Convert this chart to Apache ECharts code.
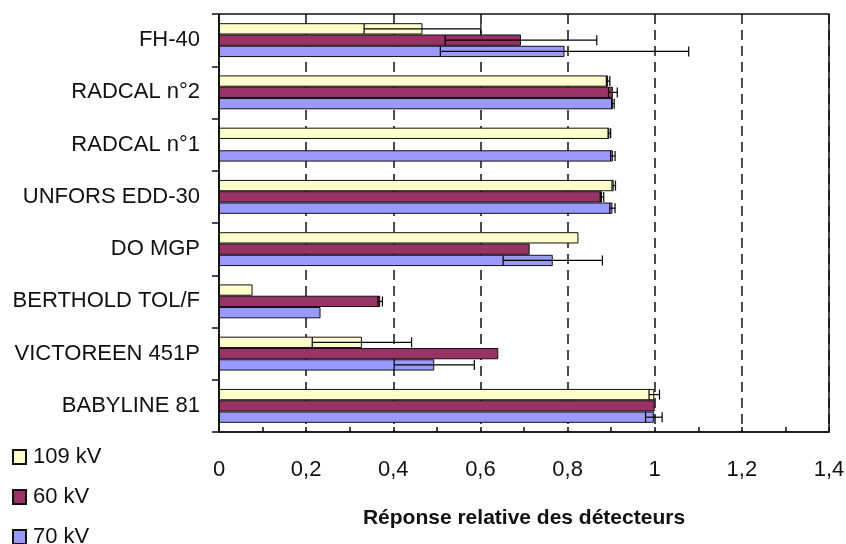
<!DOCTYPE html>
<html>
<head>
<meta charset="utf-8">
<script src="https://cdn.jsdelivr.net/npm/echarts@6/dist/echarts.min.js"></script>
<style>
  html, body { margin: 0; padding: 0; background: #fff; }
  #main { width: 846px; height: 544px; }
</style>
</head>
<body>
<div id="main"></div>
<script>
// detectors, top to bottom
var categories = ['FH-40', 'RADCAL n°2', 'RADCAL n°1', 'UNFORS EDD-30', 'DO MGP', 'BERTHOLD TOL/F', 'VICTOREEN 451P', 'BABYLINE 81'];
var seriesNames = ['109 kV', '60 kV', '70 kV'];

// relative response and error (half width) per tube voltage
var v109 = [0.467, 0.893, 0.896, 0.906, 0.825, 0.077, 0.328, 0.999];
var e109 = [0.134, 0.004, 0.003, 0.004, 0, 0, 0.114, 0.012];
var v60 = [0.693, 0.904, null, 0.879, 0.713, 0.370, 0.641, 1.0];
var e60 = [0.174, 0.010, 0, 0.004, 0, 0.005, 0, 0];
var v70 = [0.793, 0.904, 0.904, 0.903, 0.766, 0.233, 0.494, 0.998];
var e70 = [0.285, 0.003, 0.005, 0.006, 0.114, 0, 0.092, 0.019];

var xTicks = [0, 0.2, 0.4, 0.6, 0.8, 1, 1.2, 1.4];

var colors = ['#FFFFCC', '#993366', '#9999FF'];
var FONT = '"Liberation Sans", Arial, sans-serif';
var barW = 11.3;
var dir = 1;

function errData(vals, errs) {
    var out = [];
    for (var i = 0; i < vals.length; i++) {
        if (vals[i] == null || !errs[i]) continue;
        out.push([vals[i], i, errs[i]]);
    }
    return out;
}

function errRenderer(slot) {
    return function (params, api) {
        var v = api.value(0), c = api.value(1), e = api.value(2);
        var p = api.coord([v, c]);
        var y = p[1] + dir * (slot - 1) * barW;
        var x1 = api.coord([v - e, c])[0];
        var x2 = api.coord([v + e, c])[0];
        var h = 5;
        var st = { stroke: '#000', lineWidth: 1.2 };
        return {
            type: 'group',
            children: [
                { type: 'line', shape: { x1: x1, y1: y, x2: x2, y2: y }, style: st },
                { type: 'line', shape: { x1: x1, y1: y - h, x2: x1, y2: y + h }, style: st },
                { type: 'line', shape: { x1: x2, y1: y - h, x2: x2, y2: y + h }, style: st }
            ]
        };
    };
}

var values = [v109, v60, v70];
var errs = [e109, e60, e70];
var series = [];
for (var s = 0; s < 3; s++) {
    series.push({
        name: seriesNames[s],
        type: 'bar',
        data: values[s].map(function (d) { return d == null ? '-' : d; }),
        barWidth: barW,
        barGap: '0%',
        itemStyle: { color: colors[s], borderColor: '#111', borderWidth: 1 },
        emphasis: { disabled: true }
    });
}
for (var s2 = 0; s2 < 3; s2++) {
    series.push({
        type: 'custom',
        renderItem: errRenderer(s2),
        data: errData(values[s2], errs[s2]),
        encode: { x: [0], y: 1 },
        z: 5,
        silent: true
    });
}

var chart = echarts.init(document.getElementById('main'));
chart.setOption({
    animation: false,
    backgroundColor: '#fff',
    textStyle: { fontFamily: FONT },
    legend: {
        data: seriesNames,
        orient: 'vertical',
        left: 7,
        top: 439,
        height: 120,
        itemWidth: 13,
        itemHeight: 14,
        itemGap: 14,
        icon: 'rect',
        textStyle: { fontFamily: FONT, fontSize: 22, color: '#111', lineHeight: 26, padding: [0, 0, 0, 2] }
    },
    grid: {
        left: 219, right: 17, top: 14, bottom: 112,
        outerBoundsMode: 'none',
        containLabel: false,
        show: true, borderColor: '#111', borderWidth: 1.5, backgroundColor: 'transparent'
    },
    xAxis: {
        type: 'value',
        min: xTicks[0],
        max: xTicks[xTicks.length - 1],
        interval: 0.2,
        name: 'Réponse relative des détecteurs',
        nameLocation: 'middle',
        nameGap: 76,
        nameTextStyle: { fontFamily: FONT, fontSize: 21, fontWeight: 'bold', color: '#111' },
        axisLine: { show: true, lineStyle: { color: '#111', width: 1.5 } },
        axisTick: { show: true, inside: true, length: 5, lineStyle: { color: '#111', width: 1.5 } },
        minorTick: { show: true, splitNumber: 2, length: 5, lineStyle: { color: '#111', width: 1.5 } },
        axisLabel: {
            margin: 27, fontSize: 22, color: '#111', fontFamily: FONT,
            formatter: function (v) { return String(+v.toFixed(1)).replace('.', ','); }
        },
        splitLine: { show: true, lineStyle: { color: '#111', width: 1.5, type: [10, 6] } }
    },
    yAxis: {
        type: 'category',
        inverse: true,
        data: categories,
        axisLine: { show: true, lineStyle: { color: '#111', width: 1.5 } },
        axisTick: { show: true, length: 7, lineStyle: { color: '#111', width: 1.5 } },
        axisLabel: {
            margin: 19, fontSize: 22, color: '#111', fontFamily: FONT,
            padding: [0, 0, 8, 0]
        },
        splitLine: { show: false }
    },
    series: series
});
</script>
</body>
</html>
